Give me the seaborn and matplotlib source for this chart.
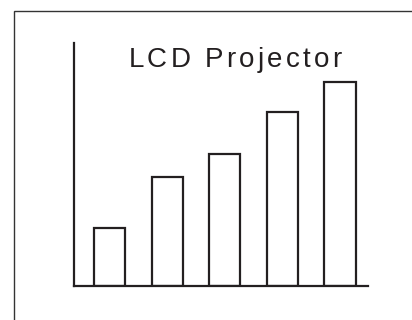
import matplotlib
matplotlib.use("Agg")
import matplotlib.pyplot as plt
from matplotlib.patches import Rectangle
from matplotlib.font_manager import FontProperties
import seaborn as sns
import pandas as pd

# Data
categories = ["1", "2", "3", "4", "5"]
values = [58, 109, 132, 174, 204]
title_text = "LCD Projector"

df = pd.DataFrame({"cat": categories, "val": values})

sns.set_style("white")
plt.rcParams["font.family"] = ["Liberation Sans", "DejaVu Sans"]

W, H = 412, 320
fig = plt.figure(figsize=(W / 100, H / 100), dpi=100)
ax = fig.add_axes([74 / W, (H - 286) / H, (368 - 74) / W, (286 - 43) / H])

sns.barplot(data=df, x="cat", y="val", ax=ax, color="white", saturation=1,
            edgecolor="#231f20", linewidth=1.6, width=0.54)

ax.set_xlim(-0.616, 4.486)
ax.set_ylim(0, 243)
ax.set_xticks([])
ax.set_yticks([])
ax.set_xlabel("")
ax.set_ylabel("")
for side in ["top", "right"]:
    ax.spines[side].set_visible(False)
for side in ["left", "bottom"]:
    ax.spines[side].set_color("#231f20")
    ax.spines[side].set_linewidth(1.6)

# Outer frame
fig.add_artist(Rectangle((14 / W, -0.1), 1.2, (H - 11) / H + 0.1,
                         transform=fig.transFigure, fill=False,
                         edgecolor="#333333", linewidth=1.0))

# Title drawn with widened letter spacing (tracking)
fp = FontProperties(family=["Liberation Sans", "DejaVu Sans"], size=20)
renderer = fig.canvas.get_renderer()


def text_width(s):
    if not s:
        return 0.0
    w, _, _ = renderer.get_text_width_height_descent(s, fp, ismath=False)
    return w


target_width = 213.0
natural = text_width(title_text)
tracking = (target_width - natural) / (len(title_text) - 1)
x0 = 235.0 - target_width / 2
baseline_y = H - 66.7
for i, ch in enumerate(title_text):
    if ch == " ":
        continue
    xpos = x0 + text_width(title_text[:i]) + i * tracking
    fig.text(xpos / W, baseline_y / H, ch, ha="left", va="baseline",
             fontproperties=fp, color="#231f20")

fig.savefig("out.png", dpi=100)
